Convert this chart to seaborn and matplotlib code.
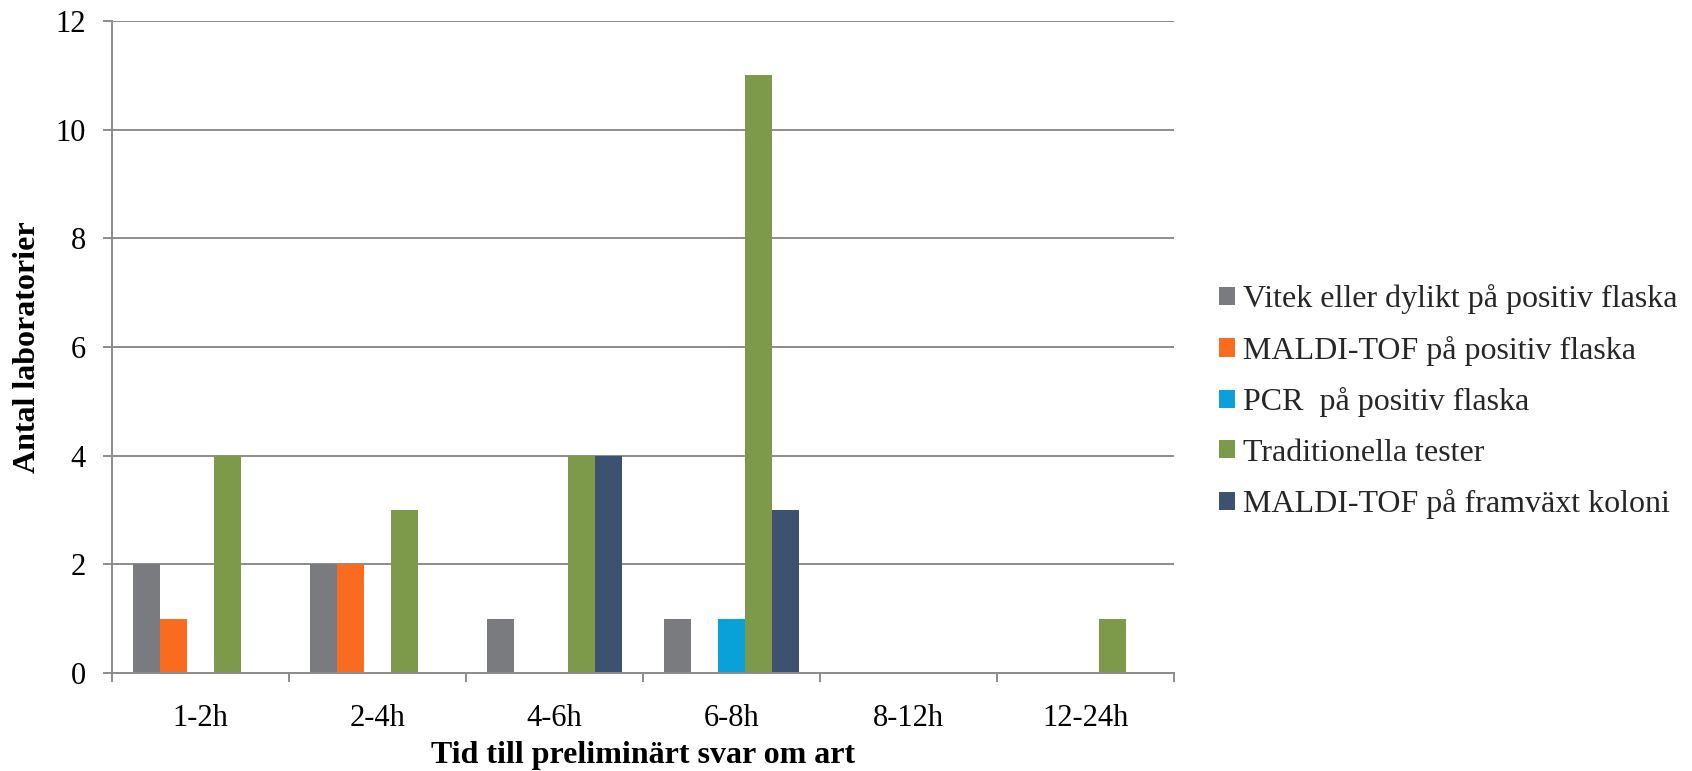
import numpy as np
import pandas as pd
import matplotlib
matplotlib.use("Agg")
import matplotlib.pyplot as plt
import seaborn as sns

categories = ["1-2h", "2-4h", "4-6h", "6-8h", "8-12h", "12-24h"]
series_names = [
    "Vitek eller dylikt på positiv flaska",
    "MALDI-TOF på positiv flaska",
    "PCR  på positiv flaska",
    "Traditionella tester",
    "MALDI-TOF på framväxt koloni",
]
vitek = [2, 2, 1, 1, 0, 0]
maldi_flaska = [1, 2, 0, 0, 0, 0]
pcr = [0, 0, 0, 1, 0, 0]
traditionella = [4, 3, 4, 11, 0, 1]
maldi_koloni = [0, 0, 4, 3, 0, 0]
colors = ["#7a7b7f", "#f96b1e", "#0aa1d9", "#7d994a", "#3d5270"]

values = [vitek, maldi_flaska, pcr, traditionella, maldi_koloni]
rows = []
for name, vals in zip(series_names, values):
    for cat, v in zip(categories, vals):
        rows.append({"Tid": cat, "Serie": name, "Antal": v})
df = pd.DataFrame(rows)

sns.set_theme(style="white")
plt.rcParams["font.family"] = ["Liberation Serif", "DejaVu Serif"]

fig = plt.figure(figsize=(16.92, 7.71), dpi=100)
ax = fig.add_axes([0.066, 0.127, 0.628, 0.846])

grid_color = "#8c8c8c"
ax.set_axisbelow(True)
ax.yaxis.grid(True, color=grid_color, linewidth=1.4)

sns.barplot(data=df, x="Tid", y="Antal", hue="Serie", hue_order=series_names,
            order=categories, palette=colors, width=0.763, linewidth=0,
            saturation=1, ax=ax)

ax.set_ylim(0, 12)
ax.set_yticks(np.arange(0, 13, 2))
ax.set_xlim(-0.5, len(categories) - 0.5)
ax.set_xticks(np.arange(len(categories)))
ax.set_xticks(np.arange(len(categories) + 1) - 0.5, minor=True)

for side in ["top", "right"]:
    ax.spines[side].set_visible(False)
for side in ["left", "bottom"]:
    ax.spines[side].set_color(grid_color)
    ax.spines[side].set_linewidth(1.4)

ax.tick_params(axis="y", which="major", direction="out", length=6.5, width=1.4,
               color=grid_color, labelsize=22, pad=12, left=True)
ax.tick_params(axis="x", which="major", length=0, labelsize=22, pad=22)
ax.tick_params(axis="x", which="minor", direction="out", length=6.5, width=1.4,
               color=grid_color, bottom=True)
for lbl in ax.get_xticklabels() + ax.get_yticklabels():
    lbl.set_color("black")

ax.set_xlabel("Tid till preliminärt svar om art", fontsize=23, fontweight="bold",
              color="black", labelpad=6)
ax.set_ylabel("Antal laboratorier", fontsize=23, fontweight="bold",
              color="black", labelpad=10)

handles, labels = ax.get_legend_handles_labels()
ax.legend(handles, labels, loc="center left", bbox_to_anchor=(0.713, 0.479),
          bbox_transform=fig.transFigure, frameon=False, fontsize=23,
          handlelength=0.5, handleheight=0.5, handletextpad=0.26,
          labelspacing=0.67, borderaxespad=0)

fig.savefig("out.png", dpi=100)
